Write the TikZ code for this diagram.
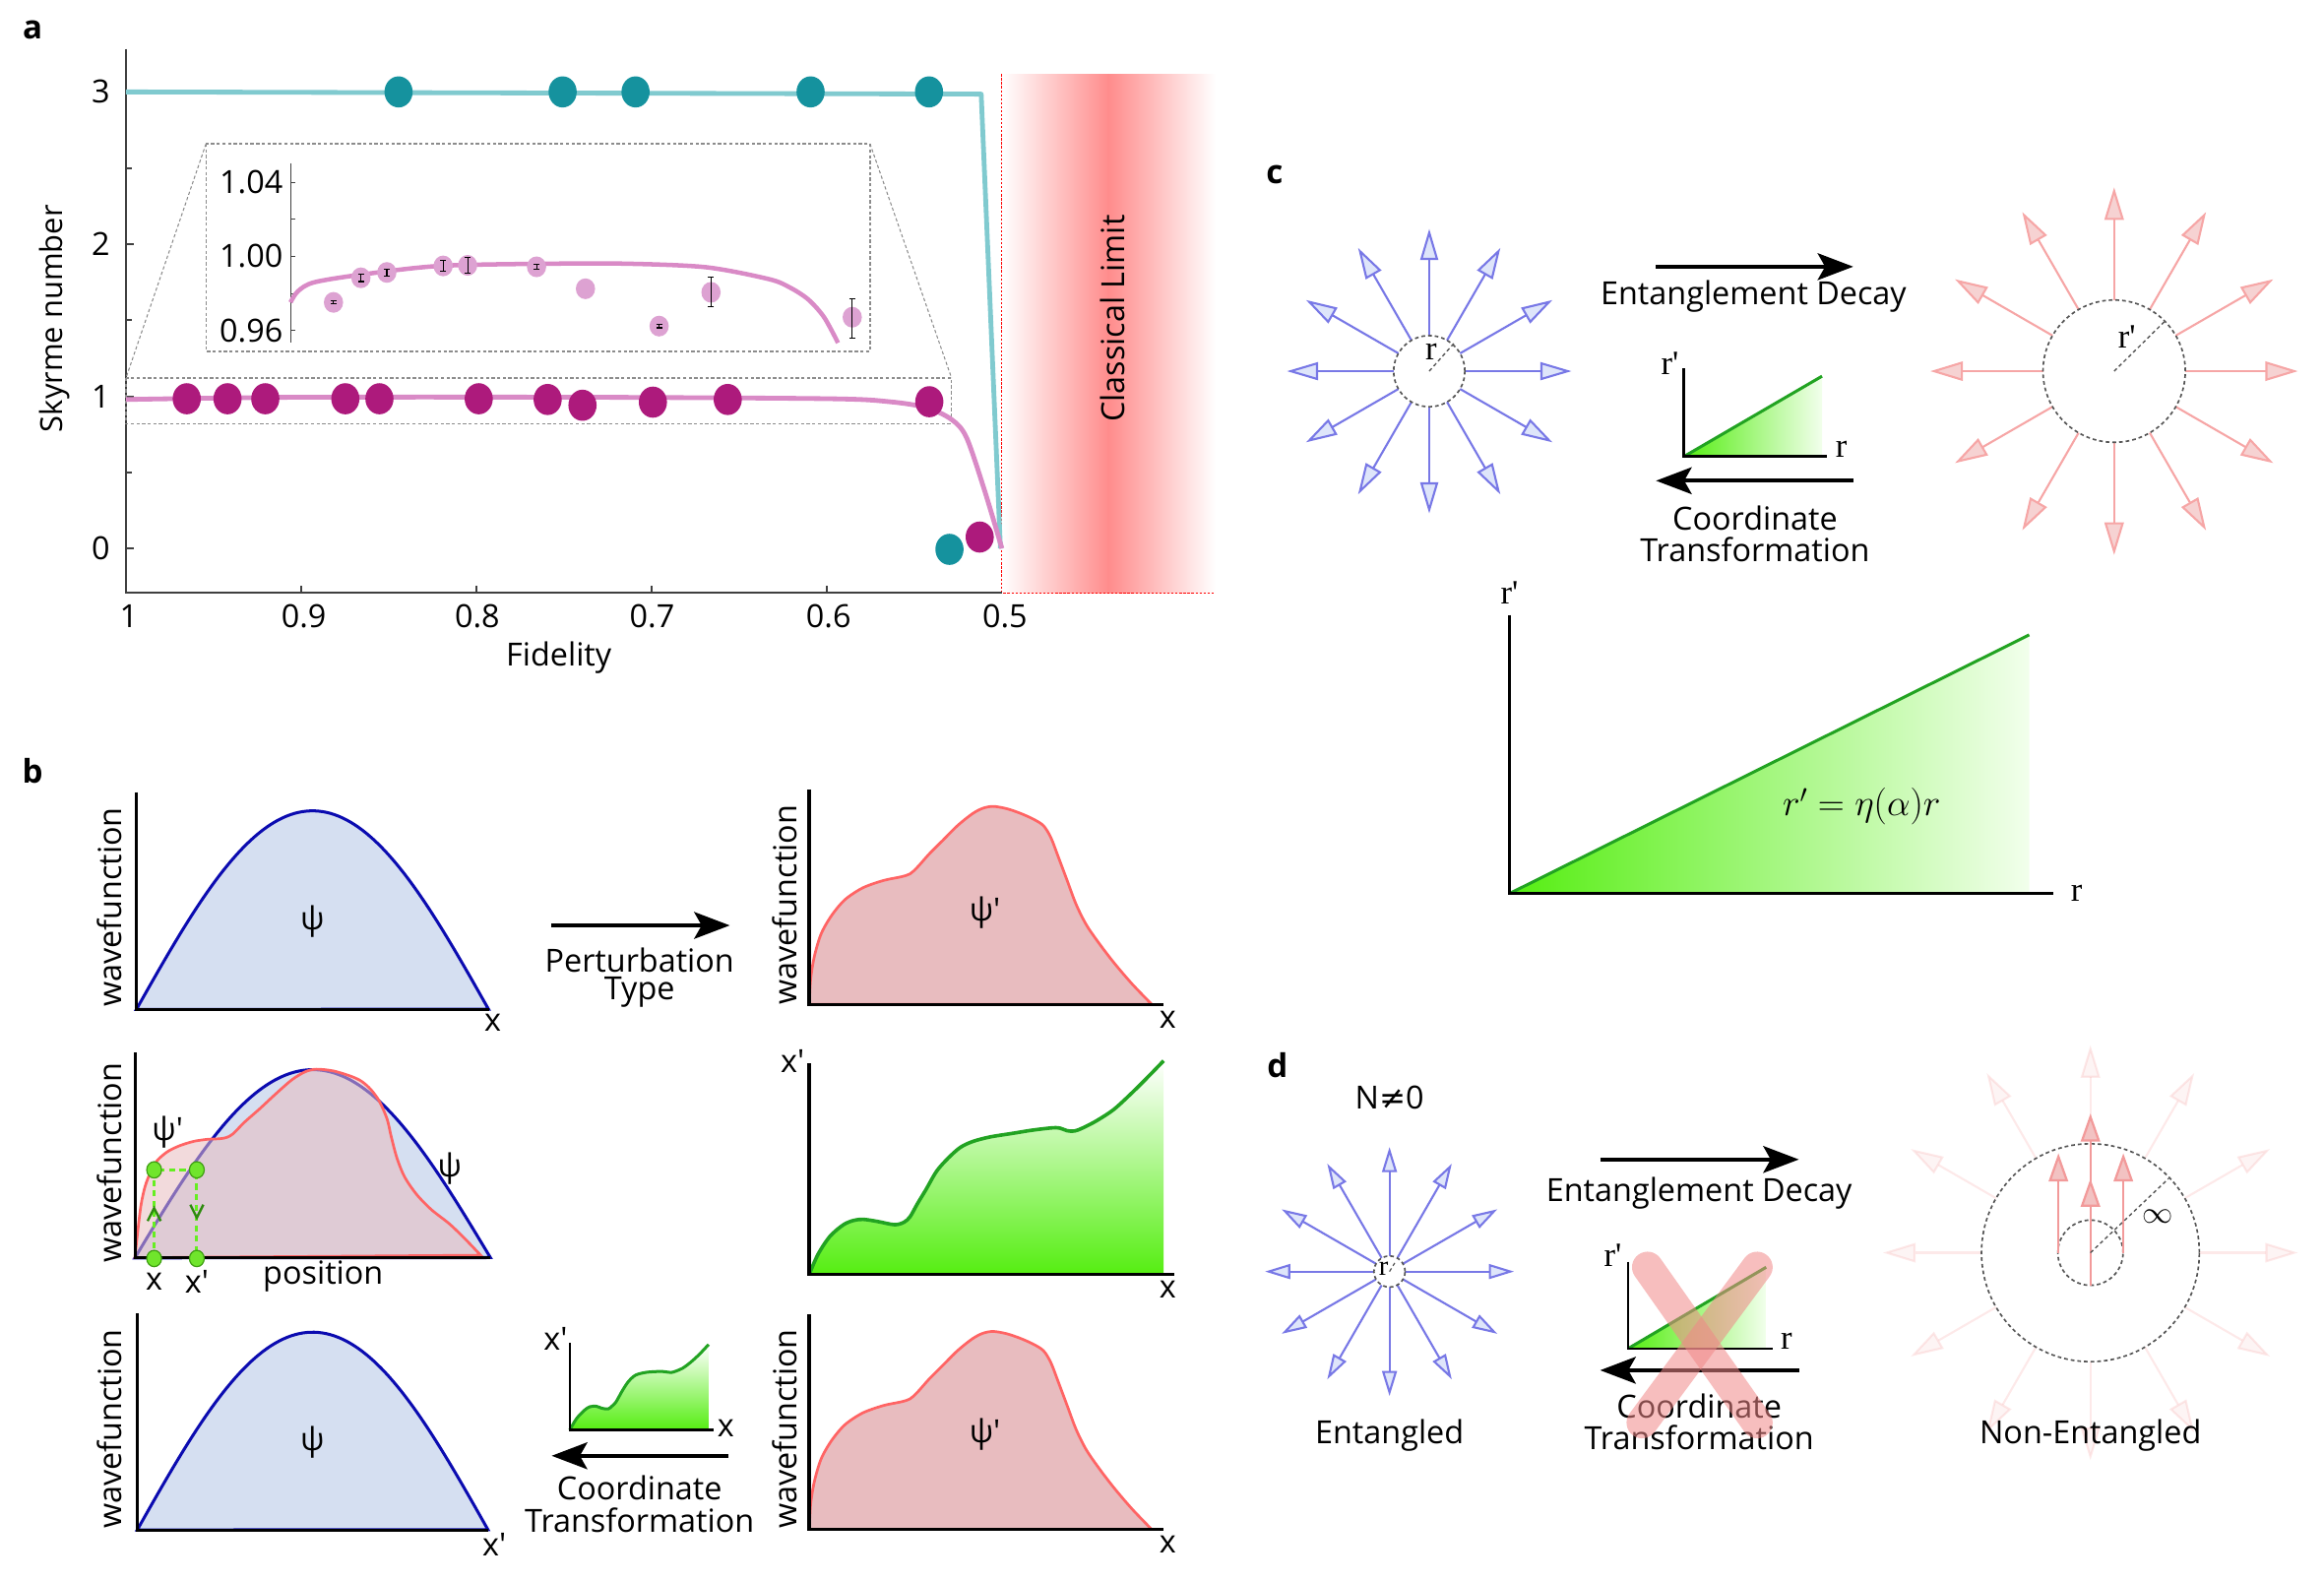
\documentclass[tikz,border=0pt]{standalone}
\usepackage{fontspec}
\setmainfont{Open Sans}
\newfontfamily\serf{Liberation Serif}
\usetikzlibrary{arrows.meta}
\definecolor{axgray}{HTML}{404040}
\definecolor{limitred}{HTML}{FF8C8C}
\definecolor{cyanline}{HTML}{80CACF}
\definecolor{tealdot}{HTML}{15929E}
\definecolor{magdot}{HTML}{AD1A7C}
\definecolor{pinkline}{HTML}{D98AC6}
\definecolor{insetdot}{HTML}{DDA2D2}
\definecolor{dotgray}{HTML}{8C8C8C}
\definecolor{circgray}{HTML}{555555}
\definecolor{blueline}{HTML}{0B0BB0}
\definecolor{bluefill}{HTML}{D5DFF1}
\definecolor{redline}{HTML}{FF6464}
\definecolor{redfill}{HTML}{E8BCBF}
\definecolor{greenline}{HTML}{22A322}
\definecolor{greenfill}{HTML}{55EE11}
\definecolor{greenpale}{HTML}{F2FFEC}
\definecolor{greendot}{HTML}{70E52C}
\definecolor{greendotd}{HTML}{3E9E12}
\definecolor{greendash}{HTML}{66EE22}
\definecolor{chev}{HTML}{2E8B0E}
\definecolor{bluestar}{HTML}{7878E6}
\definecolor{bluehead}{HTML}{DEE5FA}
\definecolor{redstar}{HTML}{F6A6A6}
\definecolor{redhead}{HTML}{F6D2D2}
\definecolor{innerred}{HTML}{F29A9A}
\definecolor{innerhead}{HTML}{F2C2C2}
\definecolor{xred}{HTML}{F08888}
\tikzset{
 txt/.style={font=\fontsize{21.5}{24}\selectfont, inner sep=0pt},
 sertxt/.style={font=\serf\fontsize{23}{26}\selectfont, inner sep=0pt},
 plet/.style={font=\fontsize{22}{24}\selectfont\bfseries, inner sep=0pt},
 axa/.style={draw=axgray, line width=1.2pt},
 axb/.style={draw=black, line width=2pt},
 gbox/.style={draw=dotgray, line width=1pt, dash pattern=on 2.2pt off 1.6pt},
 bigarr/.style={draw=black, line width=2.8pt, -{Stealth[length=24pt,width=18pt,inset=5pt]}},
 dcirc/.style={draw=circgray, line width=1.1pt, dash pattern=on 2.5pt off 2pt},
 barr/.style={draw=bluestar, line width=1.4pt, -{Triangle[length=21pt,width=12pt,fill=bluehead]}},
 barrs/.style={draw=bluestar, line width=1.4pt, -{Triangle[length=17pt,width=10pt,fill=bluehead]}},
 rarr/.style={draw=redstar, line width=1.4pt, -{Triangle[length=22pt,width=13pt,fill=redhead]}},
 iarr/.style={draw=innerred, line width=1.5pt, -{Triangle[length=19pt,width=13pt,fill=innerhead]}},
 ebar/.style={draw=black, line width=0.7pt, {Bar[width=4pt]}-{Bar[width=4pt]}},
 gline/.style={draw=greenline, line width=2pt},
}
\newcommand{\bluewave}[4]{%
 \filldraw[fill=bluefill, draw=blueline, line width=2pt] plot[domain=0:1,samples=90,variable=\t] ({#1+#2*\t},{#3-#4*sin(180*\t)}) -- cycle;
}
\newcommand{\redwave}{%
 \filldraw[fill=redfill, draw=redline, line width=1.8pt] plot[smooth,tension=0.5] coordinates {(546,677.5) (547,660) (549.5,645) (554,630) (561,617.7) (570,607) (582,599) (596,594) (608,591.5) (614,589.5) (619,585) (627,576) (636,567) (646,557) (656,549) (663,545.3) (670,544) (679,545.5) (688,548.5) (697,552.5) (704,557) (709,565) (714,578) (720,594) (726,610) (733,624) (742,637) (752,650) (764,664) (777,677.5)} -- cycle;
}
\begin{document}
\begin{tikzpicture}[x=1pt,y=-1pt]
\useasboundingbox (0,0) rectangle (1568,1067);
% ================= panel a
\node[plet] (la) at (22,20) {a};
\shade[left color=white, right color=white, middle color=limitred] (676,50) rectangle (820,400);
\draw[red, line width=0.8pt, dash pattern=on 1.5pt off 1.2pt] (676,50) -- (676,400) -- (820,400);
\node[txt, rotate=90] (cl) at (751,215) {Classical Limit};
\draw[axa] (85,33) -- (85,400) -- (676,400);
\foreach \xx in {203.2,321.4,439.6,557.8} \draw[axa] (\xx,400) -- (\xx,395);
\foreach \yy in {62,164.7,267.4,370} \draw[axa] (85,\yy) -- (90,\yy);
\foreach \yy in {113.3,216,318.7} \draw[axa] (85,\yy) -- (89,\yy);
\node[txt] (y3) at (68,62) {3};
\node[txt] (y2) at (68,164.7) {2};
\node[txt] (y1) at (68,267.4) {1};
\node[txt] (y0) at (68,370) {0};
\node[txt] (x10) at (87,416) {1};
\node[txt] (x09) at (205,416) {0.9};
\node[txt] (x08) at (322,416) {0.8};
\node[txt] (x07) at (440,416) {0.7};
\node[txt] (x06) at (559,416) {0.6};
\node[txt] (x05) at (678,416) {0.5};
\node[txt] (fid) at (377,444) {Fidelity};
\node[txt, font=\fontsize{20.5}{24}\selectfont, rotate=90] (sky) at (37,215) {Skyrme number};
\draw[gbox] (85,255) rectangle (642,286);
\draw[gbox] (139,97) rectangle (587,237);
\draw[gbox, line width=0.7pt] (139,97) -- (85,255);
\draw[gbox, line width=0.7pt] (587,97) -- (642,255);
\draw[cyanline, line width=3.2pt, line join=round] (85,62) -- (662,63.5) -- (675,370);
\draw[pinkline, line width=3.2pt] plot[smooth, tension=0.5] coordinates {(85,269.5) (200,268) (400,268) (560,269) (600,271) (625,275) (642,283) (652,295) (664,330) (676,370)};
\foreach \xx in {268.9,379.6,428.8,546.9,626.8} \fill[tealdot] (\xx,62) ellipse[x radius=9.5pt, y radius=10.5pt];
\fill[tealdot] (640.6,370.6) ellipse[x radius=9.5pt, y radius=10.5pt];
\foreach \xx/\yy in {126/269,153.5/269,179/269,233/269,256/269,323/269,369.5/269.5,393/273.4,440.5/271.3,491/269.5,627/271,661/362.3} \fill[magdot] (\xx,\yy) ellipse[x radius=9.5pt, y radius=10.5pt];
% inset
\draw[axa, line width=0.8pt] (196,110) -- (196,231);
\foreach \yy in {123,147.9,172.9,198,223} \draw[axa, line width=0.8pt] (196,\yy) -- (199,\yy);
\node[txt, anchor=east] (i104) at (191,123) {1.04};
\node[txt, anchor=east] (i100) at (191,172.9) {1.00};
\node[txt, anchor=east] (i096) at (191,223) {0.96};
\draw[pinkline, line width=3pt] plot[smooth, tension=0.5] coordinates {(196,204) (201,196.5) (211.8,190.5) (243.5,185.3) (296.5,179.4) (370.6,177.9) (423.5,177.9) (476.5,180.3) (518.8,188.3) (533,194) (545.3,202) (556,214) (565.4,231.3)};
\foreach \xx/\yy in {225/204,243.5/187.4,261/183.8,299/179.4,315.5/179,362/180,395/194.8,444.7/220,479.7/197.2,575/214} \fill[insetdot] (\xx,\yy) ellipse[x radius=6.5pt, y radius=7pt];
\foreach \xx/\ya/\yb in {225/202.5/205.5,243.5/184.5/190.3,261/181/186.6,299/175.5/183.3,315.5/173.5/184.5,362/178/182,444.7/218.5/221.5,479.7/186.8/207.5,575/201/228.3} \draw[ebar] (\xx,\ya) -- (\xx,\yb);
% ================= panel b
\node[plet] (lb) at (22,520) {b};
% row 1 left
\bluewave{92}{237.7}{681}{134}
\draw[axb] (92,534.4) -- (92,681) -- (330,681);
\node[txt] (psi1) at (210.7,621.4) {ψ};
\node[txt] (xr1) at (332.5,690.2) {x};
\node[txt, rotate=90] (wf1) at (74,612) {wavefunction};
% row 1 arrow
\coordinate (p1s) at (372,624.3);
\coordinate (p1e) at (492.4,624.3);
\draw[bigarr] (p1s) -- (p1e);
\node[txt] (pert) at (431.5,647.5) {Perturbation};
\node[txt] (ptype) at (431.5,669.2) {Type};
% row 1 right
\redwave
\draw[axb] (545.9,532.5) -- (545.9,677.5) -- (785,677.5);
\node[txt] (psip1) at (664.5,615.9) {ψ\textquotesingle};
\node[txt] (xr1r) at (787.8,687.7) {x};
\node[txt, rotate=90] (wf1r) at (529.4,610.5) {wavefunction};
% row 2 left
\bluewave{91}{240}{848.6}{127}
\filldraw[fill=redfill, fill opacity=0.55, draw=redline, line width=1.8pt] plot[smooth,tension=0.5] coordinates {(91,848.5) (93,830) (95.2,812.5) (98,800) (101.8,790.3) (106,783) (112.9,777) (121,773) (130.6,770) (140,768.6) (148.3,768.2) (153,767.3) (157.2,764.9) (165,757) (174.9,748.3) (186,738) (197,728.4) (206,723) (213.6,721.3) (225,722.5) (236.9,726.1) (244,729.5) (250.2,735) (256,743) (261.2,755) (264,767) (267.9,781.5) (273,794) (281.1,805.8) (291,816) (303.3,825.7) (314,836) (324.3,846.8)} -- cycle;
\draw[axb] (91.6,710.2) -- (91.6,848.6) -- (331,848.6);
\draw[greendash, line width=2pt, dash pattern=on 4pt off 3pt] (104,849) -- (104,789.2) -- (132.8,789.2) -- (132.8,849);
\draw[chev, line width=1.6pt] (99.6,823.7) -- (104,815) -- (108.4,823.7);
\draw[chev, line width=1.6pt] (128.4,812.7) -- (132.8,821.5) -- (137.2,812.7);
\foreach \xx/\yy in {104/789.2,132.8/789.2,104/849,132.8/849} \filldraw[fill=greendot, draw=greendotd, line width=0.8pt] (\xx,\yy) ellipse[x radius=5pt, y radius=5.5pt];
\node[txt] (psip2) at (113,764) {ψ\textquotesingle};
\node[txt] (psi2) at (303.3,788.1) {ψ};
\node[txt] (xa2) at (104,864.5) {x};
\node[txt] (xb2) at (132.8,864.5) {x\textquotesingle};
\node[txt] (pos) at (218,861.2) {position};
\node[txt, rotate=90] (wf2) at (74,784.5) {wavefunction};
% row 2 right
\shade[top color=white, bottom color=greenfill] plot[smooth,tension=0.5] coordinates {(545.9,859.9) (552,846) (560,834) (569.1,826.2) (576,823.3) (582.4,822.6) (592,824) (603.6,826.2) (610,824.5) (614.1,820.7) (619,812) (624.7,802.6) (632,790) (640,781) (648,774) (656.5,770) (668,767) (683,764.6) (696,762.5) (709.5,760.9) (715,761) (720,762.8) (725,763) (730.6,760.9) (740,756) (751.8,748.2) (765,736) (776,725) (785.1,715.6)} -- (785.1,859.9) -- cycle;
\draw[gline, line width=2.4pt] plot[smooth,tension=0.5] coordinates {(545.9,859.9) (552,846) (560,834) (569.1,826.2) (576,823.3) (582.4,822.6) (592,824) (603.6,826.2) (610,824.5) (614.1,820.7) (619,812) (624.7,802.6) (632,790) (640,781) (648,774) (656.5,770) (668,767) (683,764.6) (696,762.5) (709.5,760.9) (715,761) (720,762.8) (725,763) (730.6,760.9) (740,756) (751.8,748.2) (765,736) (776,725) (785.1,715.6)};
\draw[axb] (545.9,717.4) -- (545.9,859.9) -- (792.6,859.9);
\node[txt] (xp2r) at (534.7,715.6) {x\textquotesingle};
\node[txt] (x2r) at (787.8,869.7) {x};
% row 3 left
\bluewave{92.6}{236.7}{1032.1}{133.4}
\draw[axb] (92.6,886) -- (92.6,1032.1) -- (329.3,1032.1);
\node[txt] (psi3) at (210.7,973) {ψ};
\node[txt] (xp3) at (333.5,1041.9) {x\textquotesingle};
\node[txt, rotate=90] (wf3) at (74,964) {wavefunction};
% row 3 small graph
\shade[top color=white, bottom color=greenfill] plot[smooth,tension=0.5] coordinates {(384.4,964.7) (389,957) (394.4,951.3) (398,949) (402.4,948.7) (406,950) (410.3,950.5) (413,948.5) (415.6,945.8) (420,938) (424,932) (428.8,927.7) (436,925.8) (444.7,925.2) (448,925.3) (452.7,925.9) (456,925) (460.6,923) (466,919) (472,913.5) (478.1,907)} -- (478.1,964.7) -- cycle;
\draw[gline] plot[smooth,tension=0.5] coordinates {(384.4,964.7) (389,957) (394.4,951.3) (398,949) (402.4,948.7) (406,950) (410.3,950.5) (413,948.5) (415.6,945.8) (420,938) (424,932) (428.8,927.7) (436,925.8) (444.7,925.2) (448,925.3) (452.7,925.9) (456,925) (460.6,923) (466,919) (472,913.5) (478.1,907)};
\draw[axb, line width=1.6pt] (384.4,906) -- (384.4,964.7) -- (481.8,964.7);
\node[txt] (xp3s) at (374.8,903.4) {x\textquotesingle};
\node[txt] (x3s) at (489.7,963.2) {x};
\coordinate (c3s) at (491.3,982.1);
\coordinate (c3e) at (372.2,982.1);
\draw[bigarr] (c3s) -- (c3e);
\node[txt] (coord3) at (431.5,1003.8) {Coordinate};
\node[txt] (trans3) at (431.5,1025.6) {Transformation};
% row 3 right
\begin{scope}[shift={(0,354.2)}]
\redwave
\draw[axb] (545.9,532.5) -- (545.9,677.5) -- (785,677.5);
\end{scope}
\node[txt] (psip3) at (664.5,967.6) {ψ\textquotesingle};
\node[txt] (x3r) at (787.8,1041.9) {x};
\node[txt, rotate=90] (wf3r) at (529.4,964) {wavefunction};
% ================= panel c
\node[plet] (lc) at (860,118) {c};
\coordinate (cB) at (964.3,250.4);
\foreach \a in {0,30,...,330} \draw[barr, shift={(cB)}] (\a:24) -- (\a:96);
\draw[dcirc] (cB) circle[radius=24pt];
\draw[dcirc, line width=0.9pt] (cB) -- (980.8,231.8);
\node[sertxt] (rc1) at (965.5,237) {r};
\coordinate (cR) at (1426.4,250.4);
\foreach \a in {0,30,...,330} \draw[rarr, shift={(cR)}] (\a:48) -- (\a:124);
\draw[dcirc] (cR) circle[radius=48pt];
\draw[dcirc, line width=0.9pt] (cR) -- (1460.8,216.5);
\node[sertxt] (rc2) at (1435,227) {r\textquotesingle};
\coordinate (ed1s) at (1117.3,179.9);
\coordinate (ed1e) at (1250.4,179.9);
\draw[bigarr] (ed1s) -- (ed1e);
\node[txt] (ed1) at (1183.1,200.2) {Entanglement Decay};
\shade[left color=greenfill, right color=greenpale] (1136.1,308) -- (1229.3,253.8) -- (1229.3,308) -- cycle;
\draw[gline] (1136.1,308) -- (1229.3,253.8);
\draw[axb, line width=1.8pt] (1136.1,248.7) -- (1136.1,308) -- (1232.6,308);
\node[sertxt] (rpc) at (1126.7,245.3) {r\textquotesingle};
\node[sertxt] (rrc) at (1242.4,302.9) {r};
\coordinate (ct1s) at (1250.4,324.3);
\coordinate (ct1e) at (1117.3,324.3);
\draw[bigarr] (ct1s) -- (ct1e);
\node[txt] (co1) at (1184.1,349.4) {Coordinate};
\node[txt] (tr1) at (1184.1,370.7) {Transformation};
% big graph
\shade[left color=greenfill, right color=greenpale] (1018.4,602.8) -- (1369.1,428.3) -- (1369.1,602.8) -- cycle;
\draw[gline] (1018.4,602.8) -- (1369.1,428.3);
\draw[axb, line width=1.8pt] (1018.4,414.8) -- (1018.4,602.8) -- (1385.5,602.8);
\node[sertxt] (rpb) at (1018.4,400) {r\textquotesingle};
\node[sertxt] (rrb) at (1401,602.8) {r};
\node[inner sep=0pt, font=\fontsize{23}{26}\selectfont] (form) at (1256,544.2) {$r' = \eta(\alpha) r$};
% ================= panel d
\node[plet] (ld) at (862,718.3) {d};
\node[txt] (nn) at (937.5,740.2) {N{\fontspec{DejaVu Sans}≠}0};
\coordinate (dB) at (937.5,857.8);
\foreach \a in {0,30,...,330} \draw[barrs, shift={(dB)}] (\a:10.5) -- (\a:84);
\draw[dcirc, fill=white] (dB) circle[radius=10.5pt];
\draw[dcirc, line width=0.8pt] (dB) -- (941,852);
\node[sertxt, font=\serf\fontsize{19}{20}\selectfont] (rd1) at (933.5,856) {r};
\node[txt] (ent) at (937.5,968.3) {Entangled};
\coordinate (ed2s) at (1079.6,782.2);
\coordinate (ed2e) at (1213.7,782.2);
\draw[bigarr] (ed2s) -- (ed2e);
\node[txt] (ed2) at (1146.4,804.9) {Entanglement Decay};
\shade[left color=greenfill, right color=greenpale] (1098.4,909.8) -- (1191.6,854.9) -- (1191.6,909.8) -- cycle;
\draw[gline] (1098.4,909.8) -- (1191.6,854.9);
\draw[axb, line width=1.8pt] (1098.4,851.2) -- (1098.4,909.8) -- (1196.3,909.8);
\node[sertxt] (rpd) at (1088.1,847.1) {r\textquotesingle};
\node[sertxt] (rrd) at (1205.3,904.9) {r};
\coordinate (ct2s) at (1213.7,924.4);
\coordinate (ct2e) at (1079.6,924.4);
\draw[bigarr] (ct2s) -- (ct2e);
\node[txt] (co2) at (1146.4,948.8) {Coordinate};
\node[txt] (tr2) at (1146.4,969.5) {Transformation};
\draw[xred, line width=21pt, line cap=round, opacity=0.55] (1111.6,854.9) -- (1185.5,959.8);
\draw[xred, line width=21pt, line cap=round, opacity=0.55] (1185.5,854.9) -- (1107.9,959.8);
% non-entangled
\coordinate (dR) at (1410.4,845.1);
\foreach \a in {0,30,...,330} \draw[rarr, opacity=0.25, shift={(dR)}] (\a:73.5) -- (\a:140);
\draw[dcirc] (dR) circle[radius=73.5pt];
\draw[dcirc] (dR) circle[radius=22pt];
\draw[iarr] (1388.8,845.1) -- (1388.8,778);
\draw[iarr] (1432.6,845.1) -- (1432.6,778);
\draw[iarr] (1410.4,867.1) -- (1410.4,751.2);
\draw[iarr] (1410.4,867.1) -- (1410.4,795.1);
\draw[dcirc, line width=0.9pt] (dR) -- (1463.1,795.1);
\node[inner sep=0pt, font=\fontsize{22}{24}\selectfont] (inf) at (1456.1,820.7) {$\infty$};
\node[txt] (nent) at (1410.4,968.3) {Non-Entangled};
\end{tikzpicture}
\end{document}
